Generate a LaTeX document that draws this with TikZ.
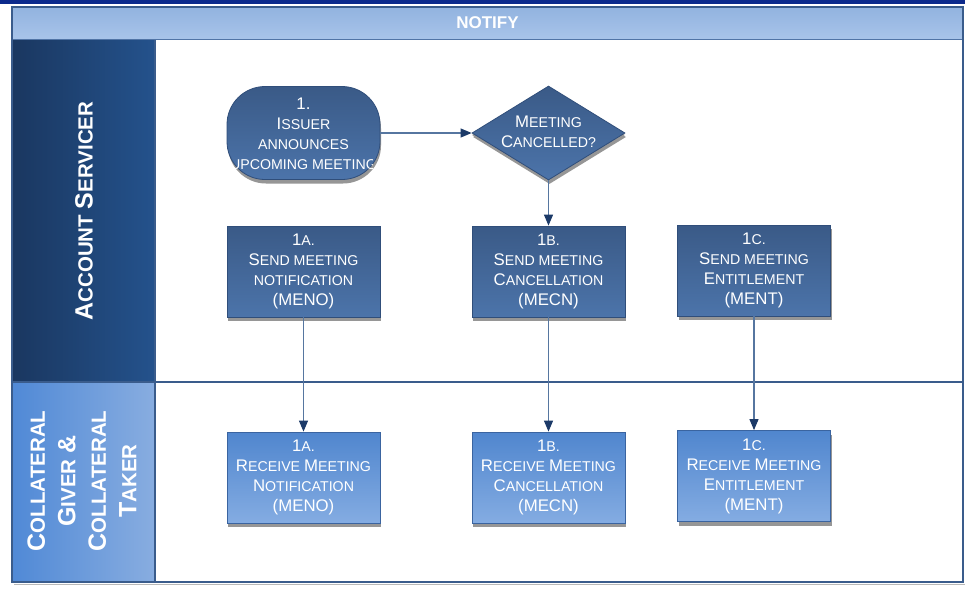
\documentclass[tikz,border=0pt]{standalone}
\usepackage{fontspec}
\setmainfont{Liberation Sans}
\usetikzlibrary{shapes.geometric,arrows.meta,shadows}

% colours
\definecolor{topbar}{RGB}{12,42,140}
\definecolor{framec}{RGB}{58,92,140}
\definecolor{headtop}{RGB}{146,179,223}
\definecolor{headbot}{RGB}{168,196,234}
\definecolor{headedge}{RGB}{80,116,166}
\definecolor{laneAl}{RGB}{26,55,96}
\definecolor{laneAr}{RGB}{36,82,140}
\definecolor{laneBl}{RGB}{80,137,214}
\definecolor{laneBr}{RGB}{136,173,224}
\definecolor{darktop}{RGB}{58,90,135}
\definecolor{darkbot}{RGB}{76,116,170}
\definecolor{darkedge}{RGB}{48,78,122}
\definecolor{lighttop}{RGB}{80,134,206}
\definecolor{lightbot}{RGB}{132,172,226}
\definecolor{lightedge}{RGB}{58,100,160}
\definecolor{linkc}{RGB}{86,118,160}
\definecolor{tipc}{RGB}{28,58,104}
\definecolor{shadowc}{RGB}{150,150,150}

% small-caps style capitals
\newcommand\Bg[1]{{\fontsize{16.8}{20}\selectfont #1}}
\newcommand\Lg[1]{{\fontsize{25}{30.5}\selectfont #1}}

\tikzset{
  boxshadow/.style={drop shadow={shadow xshift=1pt,shadow yshift=-4pt,fill=shadowc,opacity=1}},
  darkshape/.style={draw=darkedge,line width=0.8pt,top color=darktop,bottom color=darkbot,boxshadow},
  lightshape/.style={draw=lightedge,line width=0.8pt,top color=lighttop,bottom color=lightbot,boxshadow},
  steptext/.style={text=white,align=center,inner sep=0pt,font=\fontsize{14.2}{20}\selectfont},
  sendbox/.style={darkshape,rectangle,minimum width=153pt,minimum height=91pt,inner sep=0pt,
    text=white,align=center,font=\fontsize{14.2}{20}\selectfont},
  recvbox/.style={lightshape,rectangle,minimum width=153pt,minimum height=91pt,inner sep=0pt,
    text=white,align=center,font=\fontsize{14.2}{20}\selectfont},
  lanetext/.style={text=white,align=center,rotate=90,inner sep=0pt,
    font=\fontsize{20.5}{30.5}\selectfont\bfseries},
  flow/.style={draw=linkc,line width=1.1pt,
    -{Triangle[length=11pt,width=9pt,color=tipc]}},
}

\begin{document}
\begin{tikzpicture}[x=1pt,y=-1pt]
\useasboundingbox (0,0) rectangle (965,592);
\fill[white] (0,0) rectangle (965,592);

% top rule
\fill[topbar] (0,0) rectangle (965,3.5);

% lane label panels
\shade[left color=laneAl,right color=laneAr] (12,40) rectangle (155,382);
\shade[left color=laneBl,right color=laneBr] (12,382) rectangle (155,582);

% lane separators
\draw[framec,line width=1.2pt] (155,40) -- (155,582);
\draw[framec,line width=1.2pt] (12,382) -- (963,382);

% header band
\shade[top color=headtop,bottom color=headbot] (12,7) rectangle (963,39.5);
\draw[headedge,line width=1.4pt] (12,39.5) -- (963,39.5);
\node[text=white,font=\fontsize{17}{20}\selectfont\bfseries] (title) at (487.5,23) {NOTIFY};

% outer frame
\draw[gray!55,line width=1pt] (965,9) -- (965,584) -- (14,584);
\draw[framec,line width=1.8pt] (12,7) rectangle (963,582);

% lane titles
\node[lanetext] (laneA) at (84,211) {\Lg{A}CCOUNT \Lg{S}ERVICER};
\node[lanetext] (laneB) at (82,481) {\Lg{C}OLLATERAL\\\Lg{G}IVER \Lg{\&}\\\Lg{C}OLLATERAL\\\Lg{T}AKER};

% start terminal
\node[darkshape,rectangle,rounded corners=38pt,minimum width=153pt,minimum height=93pt,inner sep=0pt]
  (term) at (303.5,133) {};
\begin{scope}
  \clip (234,86) rectangle (372,182);
  \node[steptext] (termtext) at (303.5,134)
    {\Bg{1.}\\\Bg{I}SSUER\\ANNOUNCES\\UPCOMING MEETING};
\end{scope}

% decision
\node[darkshape,diamond,minimum width=153pt,minimum height=94pt,inner sep=0pt,
  drop shadow={shadow xshift=0pt,shadow yshift=-2pt,fill=shadowc,opacity=1}]
  (dec) at (548.5,133) {};
\node[steptext] (dectext) at (548.5,132) {\Bg{M}EETING\\\Bg{C}ANCELLED?};

% sending steps
\node[sendbox] (sA) at (303.5,271.5) {\Bg{1}A.\\\Bg{S}END MEETING\\NOTIFICATION\\\Bg{(MENO)}};
\node[sendbox] (sB) at (548.5,271.5) {\Bg{1}B.\\\Bg{S}END MEETING\\\Bg{C}ANCELLATION\\\Bg{(MECN)}};
\node[sendbox] (sC) at (754,270.5) {\Bg{1}C.\\\Bg{S}END MEETING\\\Bg{E}NTITLEMENT\\\Bg{(MENT)}};

% receiving steps
\node[recvbox] (rA) at (303.5,477.5) {\Bg{1}A.\\\Bg{R}ECEIVE \Bg{M}EETING\\\Bg{N}OTIFICATION\\\Bg{(MENO)}};
\node[recvbox] (rB) at (548.5,477.5) {\Bg{1}B.\\\Bg{R}ECEIVE \Bg{M}EETING\\\Bg{C}ANCELLATION\\\Bg{(MECN)}};
\node[recvbox] (rC) at (754,476) {\Bg{1}C.\\\Bg{R}ECEIVE \Bg{M}EETING\\\Bg{E}NTITLEMENT\\\Bg{(MENT)}};

% connectors
\draw[flow] (term.east) -- (dec.west);
\draw[flow] (dec.south) -- (sB.north);
\draw[flow] (sA.south) -- (rA.north);
\draw[flow] (sB.south) -- (rB.north);
\draw[flow] (sC.south) -- (rC.north);
\end{tikzpicture}
\end{document}
